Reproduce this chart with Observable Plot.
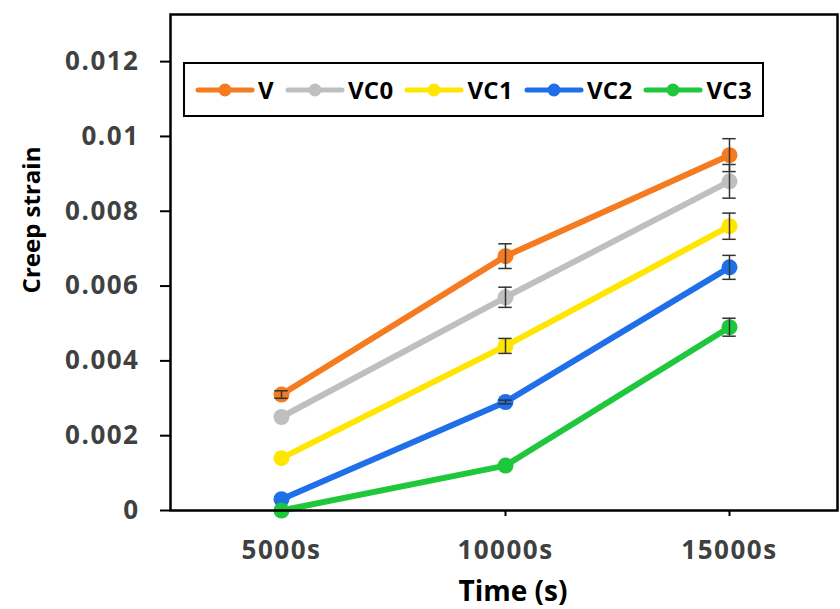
<!DOCTYPE html>
<html>
<head>
<meta charset="utf-8">
<script src="https://cdn.jsdelivr.net/npm/d3@7"></script>
<script src="https://cdn.jsdelivr.net/npm/@observablehq/plot@0.6"></script>
<style>
  html, body { margin: 0; padding: 0; background: #fff; }
  #wrap { position: relative; width: 840px; height: 609px; font-family: "Open Sans", sans-serif; }
  #ytitle { position: absolute; left: 31px; top: 220px; transform: translate(-50%, -50%) rotate(-90deg);
    font-weight: 700; font-size: 24px; color: #000; white-space: nowrap; line-height: 1; }
  #xtitle { position: absolute; left: 513px; top: 590px; transform: translate(-50%, -50%);
    font-weight: 700; font-size: 28px; color: #000; white-space: nowrap; line-height: 1; }
  #legend { position: absolute; left: 183px; top: 62px; width: 581px; height: 55px; box-sizing: border-box;
    border: 2.5px solid #000; background: #fff; display: flex; align-items: center; padding-left: 10px; }
  .item { display: flex; align-items: center; margin-right: 11px; }
  .item span { font-weight: 700; font-size: 24px; color: #000; margin-left: 3px; letter-spacing: 0.3px; }
</style>
</head>
<body>
<div id="wrap">
  <div id="chart"></div>
  <div id="legend"></div>
  <div id="ytitle">Creep strain</div>
  <div id="xtitle">Time (s)</div>
</div>
<script>
const times = [5000, 10000, 15000];
const timeLabels = ["5000s", "10000s", "15000s"];
const series = ["V", "VC0", "VC1", "VC2", "VC3"];
const colors = ["#F47B20", "#BFBFBF", "#FFE600", "#1F6FE8", "#1EC73B"];

const V   = [0.0031, 0.0068, 0.0095];
const VC0 = [0.0025, 0.0057, 0.0088];
const VC1 = [0.0014, 0.0044, 0.0076];
const VC2 = [0.0003, 0.0029, 0.0065];
const VC3 = [0.0000, 0.0012, 0.0049];

const V_err   = [0.0001, 0.00033, 0.00044];
const VC0_err = [0.0000, 0.00027, 0.00045];
const VC1_err = [0.0000, 0.00020, 0.00035];
const VC2_err = [0.0000, 0.00005, 0.00032];
const VC3_err = [0.0000, 0.00000, 0.00024];

const yTicks = [0, 0.002, 0.004, 0.006, 0.008, 0.01, 0.012];

const values = [V, VC0, VC1, VC2, VC3];
const errs = [V_err, VC0_err, VC1_err, VC2_err, VC3_err];
const rows = [];
series.forEach((s, i) => times.forEach((t, j) => rows.push({series: s, t, v: values[i][j], e: errs[i][j]})));
const errRows = rows.filter(d => d.e > 0);

const capHalf = 150;

const chart = Plot.plot({
  width: 840,
  height: 609,
  marginLeft: 170,
  marginRight: 3,
  marginTop: 14,
  marginBottom: 99,
  style: {fontFamily: "'Open Sans', sans-serif", background: "#fff", overflow: "visible"},
  x: {type: "linear", domain: [2522, 17411]},
  y: {domain: [0, 0.01326]},
  color: {domain: series, range: colors},
  marks: [
    Plot.axisY({ticks: yTicks, tickSize: 10, tickPadding: 21, strokeWidth: 2, stroke: "#000",
      tickFormat: d => d === 0 ? "0" : String(+d.toFixed(3)),
      fontSize: 26, fontWeight: 700, fill: "#404040", label: null}),
    Plot.axisX({ticks: times, tickSize: 6, tickPadding: 24, strokeWidth: 2, stroke: "#000",
      tickFormat: d => timeLabels[times.indexOf(d)],
      fontSize: 26, fontWeight: 700, fill: "#404040", label: null}),
    Plot.line(rows, {x: "t", y: "v", z: "series", stroke: "series", strokeWidth: 6}),
    Plot.dot(rows, {x: "t", y: "v", fill: "series", r: 8}),
    Plot.ruleX(errRows, {x: "t", y1: d => d.v - d.e, y2: d => d.v + d.e, stroke: "#333", strokeWidth: 1.5}),
    Plot.ruleY(errRows, {y: d => d.v + d.e, x1: d => d.t - capHalf, x2: d => d.t + capHalf, stroke: "#333", strokeWidth: 1.5}),
    Plot.ruleY(errRows, {y: d => d.v - d.e, x1: d => d.t - capHalf, x2: d => d.t + capHalf, stroke: "#333", strokeWidth: 1.5}),
    Plot.frame({stroke: "#000", strokeWidth: 2.5})
  ]
});
chart.querySelectorAll("text").forEach(t => t.style.letterSpacing = "1.5px");
document.getElementById("chart").appendChild(chart);

const legend = document.getElementById("legend");
series.forEach((s, i) => {
  const item = document.createElement("div");
  item.className = "item";
  item.innerHTML = `<svg width="60" height="20"><line x1="3" y1="10" x2="57" y2="10" stroke="${colors[i]}" stroke-width="5" stroke-linecap="round"/><circle cx="30" cy="10" r="6.5" fill="${colors[i]}"/></svg><span>${s}</span>`;
  legend.appendChild(item);
});
</script>
</body>
</html>
